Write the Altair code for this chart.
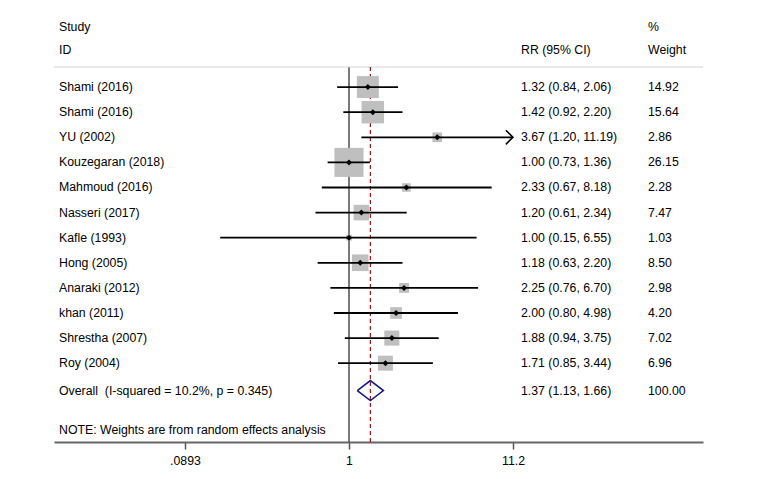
import altair as alt
import pandas as pd

studies = ["Shami (2016)", "Shami (2016)", "YU (2002)", "Kouzegaran (2018)", "Mahmoud (2016)",
           "Nasseri (2017)", "Kafle (1993)", "Hong (2005)", "Anaraki (2012)", "khan (2011)",
           "Shrestha (2007)", "Roy (2004)"]
rr = [1.32, 1.42, 3.67, 1.00, 2.33, 1.20, 1.00, 1.18, 2.25, 2.00, 1.88, 1.71]
lo = [0.84, 0.92, 1.20, 0.73, 0.67, 0.61, 0.15, 0.63, 0.76, 0.80, 0.94, 0.85]
hi = [2.06, 2.20, 11.19, 1.36, 8.18, 2.34, 6.55, 2.20, 6.70, 4.98, 3.75, 3.44]
weight = [14.92, 15.64, 2.86, 26.15, 2.28, 7.47, 1.03, 8.50, 2.98, 4.20, 7.02, 6.96]

overall_label = "Overall\u00a0\u00a0(I-squared = 10.2%, p = 0.345)"
overall = {"rr": 1.37, "lo": 1.13, "hi": 1.66, "w": 100.00}
note = "NOTE: Weights are from random effects analysis"
tick_vals = [0.0893, 1, 11.2]
tick_labels = [".0893", "1", "11.2"]

FONT = "Liberation Sans"
W, H = 649, 375
NAME_X, CI_X, WT_X = 5, 467, 594
rows = list(range(len(studies)))
ov_row = 12.09

df = pd.DataFrame({"study": studies, "rr": rr, "lo": lo, "hi": hi, "w": weight, "row": rows})
df["ci"] = [f"{a:.2f} ({b:.2f}, {c:.2f})" for a, b, c in zip(rr, lo, hi)]
df["wt"] = [f"{x:.2f}" for x in weight]
df["size"] = df["w"] * 32.4

xs = alt.Scale(type="log", domain=[0.012963, 184.0], nice=False, zero=False)
ys = alt.Scale(domain=[-0.80, 14.14], reverse=True, nice=False, zero=False)
xaxis = alt.Axis(
    values=tick_vals,
    labelExpr="datum.value < 0.5 ? '" + tick_labels[0] + "' : (datum.value < 2 ? '" + tick_labels[1] + "' : '" + tick_labels[2] + "')",
    grid=False, ticks=True, tickSize=7, tickColor="#555555", tickWidth=1.5,
    domainColor="#666666", domainWidth=2, labelFont=FONT, labelFontSize=12.3,
    labelColor="black", labelPadding=5, title=None, labelFlush=False)

X = lambda f: alt.X(f, type="quantitative", scale=xs, axis=xaxis)
Y = lambda f: alt.Y(f, type="quantitative", scale=ys, axis=None)

base = alt.Chart(df)

boxes = base.mark_square(color="#bfbfbf", opacity=1).encode(
    x=X("rr"), y=Y("row"), size=alt.Size("size:Q", scale=None))
ci = base.mark_rule(color="black", strokeWidth=1.8).encode(x=X("lo"), x2="hi", y=Y("row"))
dots = base.mark_point(shape="diamond", filled=True, color="black", size=36, opacity=1).encode(
    x=X("rr"), y=Y("row"))
arrow = base.transform_filter("datum.hi > 11").mark_point(
    shape="M-1,-1L0,0L-1,1", filled=False, color="black", strokeWidth=1.6, size=200, opacity=1
).encode(x=X("hi"), y=Y("row"))

txt = dict(fontSize=12.3, font=FONT, color="black", baseline="middle", align="left")
names = base.mark_text(**txt).encode(x=alt.value(NAME_X), y=Y("row"), text="study:N")
cis = base.mark_text(**txt).encode(x=alt.value(CI_X), y=Y("row"), text="ci:N")
wts = base.mark_text(**txt).encode(x=alt.value(WT_X), y=Y("row"), text="wt:N")

hd = pd.DataFrame({
    "t": ["Study", "ID", "RR (95% CI)", "%", "Weight", overall_label,
          f"{overall['rr']:.2f} ({overall['lo']:.2f}, {overall['hi']:.2f})", f"{overall['w']:.2f}", note],
    "px": [NAME_X, NAME_X, CI_X, WT_X, WT_X, NAME_X, CI_X, WT_X, NAME_X],
    "row": [-2.39, -1.47, -1.47, -2.39, -1.47, ov_row, ov_row, ov_row, 13.67],
})
headers = alt.Chart(hd).mark_text(**txt).encode(
    x=alt.X("px:Q", scale=None), y=Y("row"), text="t:N")

dia = pd.DataFrame({
    "x": [overall["lo"], overall["rr"], overall["hi"], overall["rr"], overall["lo"]],
    "y": [ov_row, ov_row - 0.4, ov_row, ov_row + 0.4, ov_row],
    "o": [0, 1, 2, 3, 4],
})
diamond = alt.Chart(dia).mark_line(color="#1a1a80", strokeWidth=1.6).encode(
    x=X("x"), y=Y("y"), order="o:Q")

lines = pd.DataFrame({"x": [1.0], "ov": [overall["rr"]]})
vline = alt.Chart(lines).mark_rule(color="#333333", strokeWidth=1.3).encode(
    x=X("x"), y=alt.value(0), y2=alt.value(H))
dline = alt.Chart(lines).mark_rule(color="#a01010", strokeWidth=1.2, strokeDash=[4, 3]).encode(
    x=X("ov"), y=alt.value(0), y2=alt.value(H))
topline = alt.Chart(lines).mark_rule(color="#d4d4d4", strokeWidth=1.2).encode(
    x=alt.value(0), x2=alt.value(W), y=alt.value(0))

chart = alt.layer(vline, topline, dline, boxes, ci, dots, arrow, diamond,
                  names, cis, wts, headers).properties(
    width=W, height=H,
    background="white",
    autosize=alt.AutoSizeParams(type="none"),
    padding={"left": 46, "top": 59, "right": 40, "bottom": 26},
).configure_view(strokeWidth=0, stroke=None)

chart.save("out.html", embed_options={"renderer": "svg", "actions": False})
